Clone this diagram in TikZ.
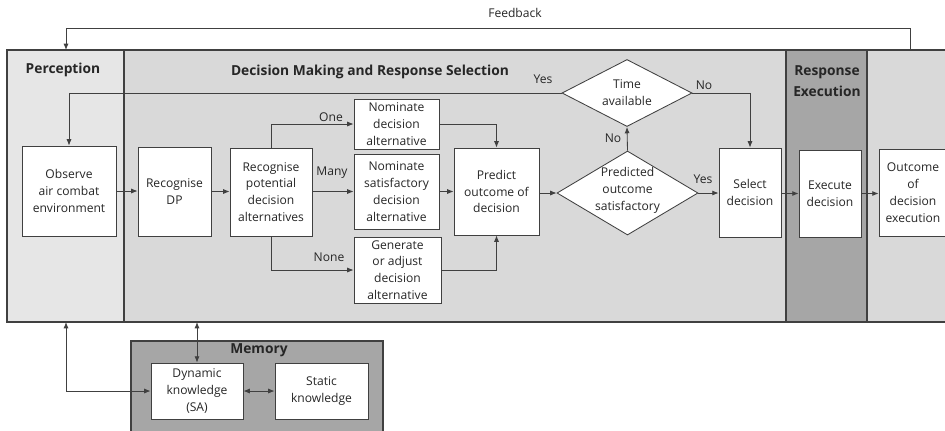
\documentclass[tikz,border=0pt]{standalone}
\usepackage{fontspec}
\setmainfont{Open Sans}
\usetikzlibrary{arrows.meta,shapes.geometric}
\definecolor{percgray}{HTML}{E6E6E6}
\definecolor{decgray}{HTML}{D9D9D9}
\definecolor{execgray}{HTML}{A6A6A6}
\definecolor{linegray}{HTML}{404040}
\newcommand\bodyfont{\fontsize{8.6}{12}\selectfont}
\newcommand\titlefont{\fontsize{9.8}{15}\selectfont\bfseries}
\tikzset{
  procbox/.style={draw=linegray, fill=white, align=center, inner sep=0.5pt, font=\bodyfont},
  choicebox/.style={diamond, draw=linegray, fill=white, inner sep=0pt},
  choicetext/.style={align=center, inner sep=0pt, font=\bodyfont},
  flowarrow/.style={draw=linegray, -{Latex[length=4.5pt,width=3.6pt]}},
  twoarrow/.style={draw=linegray, {Latex[length=4.5pt,width=3.6pt]}-{Latex[length=4.5pt,width=3.6pt]}},
  branchlabel/.style={font=\bodyfont, inner sep=1pt},
  paneltitle/.style={font=\titlefont, align=center, inner sep=0pt},
  panel/.style={draw=linegray, line width=0.8pt}
}

\begin{document}
\begin{tikzpicture}[x=0.025cm, y=-0.025cm, line width=0.6pt, text=black!85]
  \clip (0,0) rectangle (945,430);
  \fill[white] (0,0) rectangle (945,430);
  % panels
  \filldraw[panel, fill=percgray] (7,50) rectangle (124,322);
  \filldraw[panel, fill=decgray] (124,50) rectangle (786,322);
  \filldraw[panel, fill=execgray] (786,50) rectangle (867,322);
  \filldraw[panel, fill=decgray] (867,50) rectangle (952,322);
  \filldraw[panel, fill=execgray] (131,341) rectangle (383,436);

  \node[paneltitle] (perctitle) at (63,70) {Perception};
  \node[paneltitle] (dectitle) at (370,72) {Decision Making and Response Selection};
  \node[paneltitle] (exectitle) at (827,81) {Response\\Execution};
  \node[paneltitle] (memtitle) at (259,350) {Memory};

  % process boxes
  \node[procbox, minimum width=2.35cm, minimum height=2.25cm] (obs) at (69,191) {Observe\\air combat\\environment};
  \node[procbox, minimum width=1.825cm, minimum height=2.225cm] (rdp) at (174.5,191.5) {Recognise\\DP};
  \node[procbox, minimum width=2.05cm, minimum height=2.2cm] (rpot) at (271,192) {Recognise\\potential\\decision\\alternatives};
  \node[procbox, minimum width=2.125cm, minimum height=1.25cm] (nomone) at (396.5,124) {Nominate\\decision\\alternative};
  \node[procbox, minimum width=2.125cm, minimum height=1.875cm] (nommany) at (396.5,191.5) {Nominate\\satisfactory\\decision\\alternative};
  \node[procbox, minimum width=2.175cm, minimum height=1.65cm] (gen) at (397.5,270) {Generate\\or adjust\\decision\\alternative};
  \node[procbox, minimum width=2.125cm, minimum height=2.175cm] (pred) at (496.5,191.5) {Predict\\outcome of\\decision};
  \node[procbox, minimum width=1.55cm, minimum height=2.225cm] (sel) at (750,192.5) {Select\\decision};
  \node[procbox, minimum width=1.55cm, minimum height=2.175cm] (exe) at (830,193.5) {Execute\\decision};
  \node[procbox, minimum width=1.7cm, minimum height=2.175cm] (outc) at (913,192.5) {Outcome\\of\\decision\\execution};
  \node[procbox, minimum width=2.3cm, minimum height=1.4cm] (dyn) at (197,391) {Dynamic\\knowledge\\(SA)};
  \node[procbox, minimum width=2.325cm, minimum height=1.4cm] (stat) at (321.5,391) {Static\\knowledge};

  % decisions
  \node[choicebox, minimum width=3.525cm, minimum height=2.1cm] (psat) at (627.5,193) {};
  \node[choicetext] (psattext) at (627.5,190) {Predicted\\outcome\\satisfactory};
  \node[choicebox, minimum width=3.25cm, minimum height=1.675cm] (tav) at (627,93) {};
  \node[choicetext] (tavtext) at (627,93) {Time\\available};

  % free ends on the panel borders
  \coordinate (fbstart) at (910,50);
  \coordinate (fbend) at (66,50);
  \coordinate (percbottom) at (66,322);
  \coordinate (decbottom) at (197,322);

  % connectors
  \draw[flowarrow] (fbstart) -- ++(0,-22) -| (fbend);
  \draw[flowarrow] (tav.west) -| (obs.north);
  \draw[flowarrow] (tav.east) -| (sel.north);
  \draw[flowarrow] (obs.east) -- (rdp.west |- obs.east);
  \draw[flowarrow] (rdp.east) -- (rpot.west |- rdp.east);
  \draw[flowarrow] (rpot.north) |- (nomone.west);
  \draw[flowarrow] (rpot.east |- nommany.west) -- (nommany.west);
  \draw[flowarrow] (rpot.south) |- (gen.west);
  \draw[flowarrow] (nomone.east) -| (pred.north);
  \draw[flowarrow] (nommany.east) -- (pred.west |- nommany.east);
  \draw[flowarrow] (gen.east) -| (pred.south);
  \draw[flowarrow] (pred.east |- psat.west) -- (psat.west);
  \draw[flowarrow] (psat.north) -- (tav.south);
  \draw[flowarrow] (psat.east) -- (sel.west |- psat.east);
  \draw[flowarrow] (sel.east |- exe.west) -- (exe.west);
  \draw[flowarrow] (exe.east) -- (outc.west |- exe.east);
  \draw[twoarrow] (decbottom) -- (dyn.north);
  \draw[twoarrow] (percbottom) |- (dyn.west);
  \draw[twoarrow] (dyn.east) -- (stat.west);

  % branch labels
  \node[branchlabel] (fblabel) at (515,13) {Feedback};
  \node[branchlabel] (yestime) at (543,79) {Yes};
  \node[branchlabel] (notime) at (704,85) {No};
  \node[branchlabel] (oneopt) at (331,117) {One};
  \node[branchlabel] (manyopt) at (332,173) {Many};
  \node[branchlabel] (noneopt) at (329,257) {None};
  \node[branchlabel] (nosat) at (613,138) {No};
  \node[branchlabel] (yessat) at (703,179) {Yes};
\end{tikzpicture}
\end{document}
